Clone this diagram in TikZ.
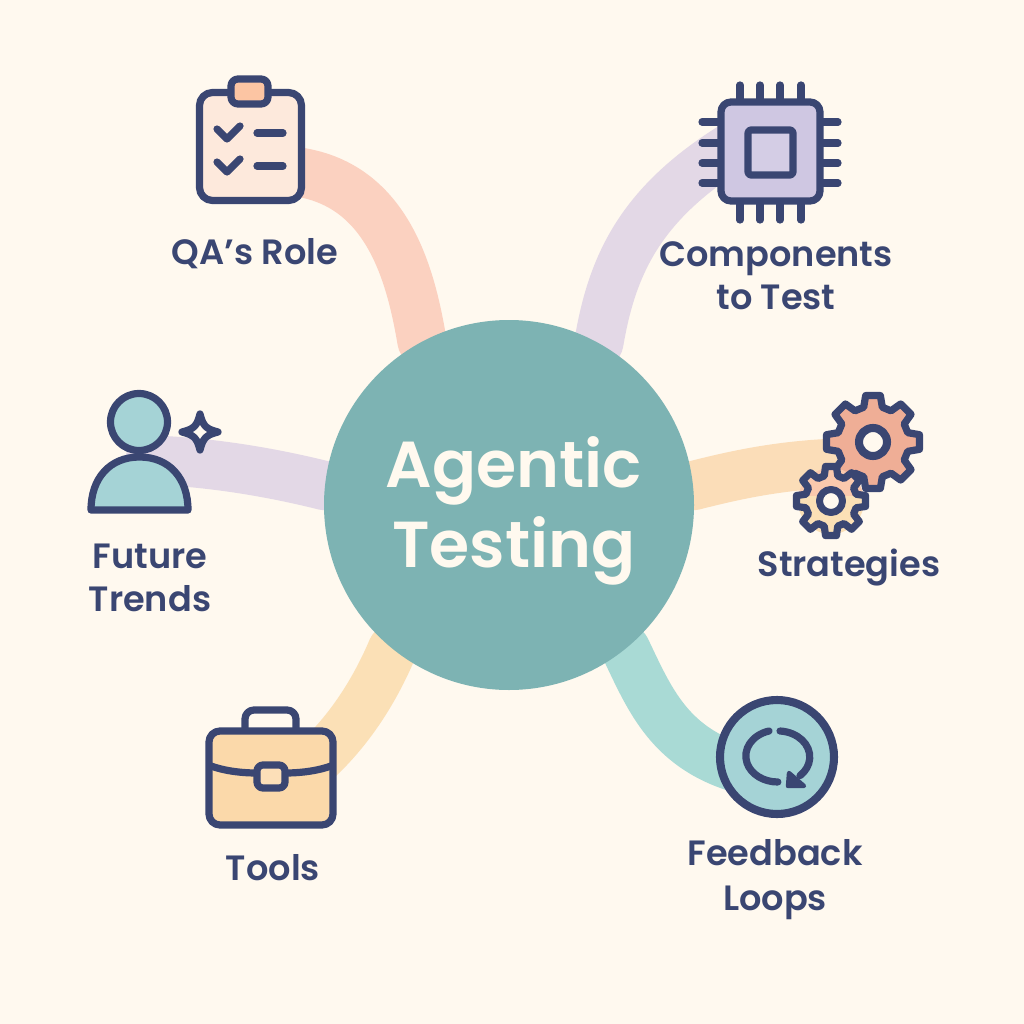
\documentclass[tikz,border=0pt]{standalone}
\usepackage{fontspec}
\setmainfont{Poppins}[UprightFont=* Medium,BoldFont=* SemiBold]
\usetikzlibrary{backgrounds}
\definecolor{paper}{HTML}{FFF9EF}
\definecolor{navy}{HTML}{3A4672}
\definecolor{hubteal}{HTML}{7DB3B3}
\definecolor{ribpeach}{HTML}{FBD1C0}
\definecolor{riblilac}{HTML}{E3D8E6}
\definecolor{riborange}{HTML}{FBDDB8}
\definecolor{ribsand}{HTML}{FBE0B6}
\definecolor{ribteal}{HTML}{A9DAD5}
\definecolor{iconaqua}{HTML}{A5D3D6}
\definecolor{iconlilac}{HTML}{CFC7E2}
\definecolor{iconsand}{HTML}{FBD9AA}
\definecolor{gearsalmon}{HTML}{EFAE96}
\tikzstyle{ribbon}=[line width=28pt,line cap=round]
\tikzstyle{icon}=[draw=navy,line width=4.1pt,line join=round]
\tikzstyle{glyph}=[draw=navy,line width=4.1pt,line cap=round,line join=round]
\tikzstyle{caption}=[text=navy,align=center,inner sep=0pt,font=\fontsize{20}{24.5}\bfseries\selectfont]
\newcommand{\drawgear}[3][]{
	\draw[icon,#1] (-15:#3) foreach \a in {0,45,...,315}{
		-- (\a-15:#3) -- (\a-9:#2) -- (\a+9:#2) -- (\a+15:#3)
	} -- cycle;
}
\begin{document}
\begin{tikzpicture}[x=0.02cm,y=-0.02cm]

\useasboundingbox (0,0) rectangle (1024,1024);

\node[circle,fill=hubteal,minimum size=370*0.02cm,inner sep=0pt] (hub) at (509,505) {};
\node[text=paper,align=center,inner sep=0pt,font=\fontsize{37}{45.5}\bfseries\selectfont]
	(hublabel) at (514,511) {Agentic\\Testing};

\coordinate (qaroot) at (290,171);
\coordinate (chiproot) at (730,148);
\coordinate (personroot) at (150,460);
\coordinate (gearroot) at (840,463);
\coordinate (caseroot) at (315,762);
\coordinate (looproot) at (745,770);

\begin{scope}[on background layer]
\fill[paper] (0,0) rectangle (1024,1024);
\draw[ribbon,ribpeach] (qaroot) .. controls (385,180) and (410,270) .. (hub.118);
\draw[ribbon,riblilac] (chiproot) .. controls (640,205) and (612,265) .. (hub.61);
\draw[ribbon,riblilac] (personroot) .. controls (210,462) and (270,472) .. (hub.174);
\draw[ribbon,riborange] (gearroot) .. controls (780,465) and (735,475) .. (hub.6);
\draw[ribbon,ribsand] (caseroot) .. controls (350,730) and (375,690) .. (hub.231);
\draw[ribbon,ribteal] (looproot) .. controls (670,750) and (650,700) .. (hub.309);
\end{scope}

% clipboard
\draw[icon,fill=ribpeach!40!paper,rounded corners=13*0.02cm] (199.5,92.5) rectangle (301.5,200.5);
\draw[icon,fill=ribpeach!85!orange,rounded corners=7*0.02cm] (231,79) rectangle (268,104);
\foreach \y in {129,162}{
	\draw[glyph] (217,\y) -- (227,\y+10) -- (240,\y-3);
	\draw[glyph] (257,\y+4) -- (283,\y+4);
}

% chip
\foreach \x in {740,760,780,801}{
	\draw[glyph] (\x,85) -- (\x,105);
	\draw[glyph] (\x,200) -- (\x,220);
}
\foreach \y in {122,143,163,183}{
	\draw[glyph] (702,\y) -- (722,\y);
	\draw[glyph] (820,\y) -- (838,\y);
}
\draw[icon,fill=iconlilac,rounded corners=10*0.02cm] (721,102) rectangle (820,201);
\draw[icon,fill=iconlilac!90!white,rounded corners=3*0.02cm] (748,130) rectangle (793,175);

% person
\draw[icon,fill=iconaqua] (139,422) circle (28.5);
\draw[icon,fill=iconaqua] (91,510) .. controls (91,478) and (110,457) .. (139.5,457)
	.. controls (169,457) and (188,478) .. (188,510) -- cycle;
\draw[icon,fill=paper] (200,414) .. controls (203,426) and (206,429) .. (218,432)
	.. controls (206,435) and (203,438) .. (200,450)
	.. controls (197,438) and (194,435) .. (182,432)
	.. controls (194,429) and (197,426) .. (200,414) -- cycle;

% gears
\begin{scope}[shift={(873,442)}]
\drawgear[fill=gearsalmon]{47}{36}
\draw[icon,fill=paper,line width=4.6pt] (0,0) circle (14);
\end{scope}
\begin{scope}[shift={(831,501)}]
\begin{scope}
\clip (-45,-45) rectangle (45,-5);
\fill[ribpeach!90!orange] (0,0) circle (33);
\end{scope}
\begin{scope}
\clip (-45,-5) rectangle (45,45);
\fill[ribsand] (0,0) circle (33);
\end{scope}
\drawgear{35}{26}
\draw[icon,fill=paper,line width=4pt] (0,0) circle (11.5);
\end{scope}

% briefcase
\draw[icon,rounded corners=9*0.02cm] (245,732) -- (245,710) -- (296,710) -- (296,732);
\draw[icon,fill=iconsand,rounded corners=11*0.02cm] (209,731) rectangle (333,825);
\draw[icon] (211,766) .. controls (222,770) and (238,773) .. (257,773);
\draw[icon] (285,773) .. controls (304,773) and (320,770) .. (331,766);
\draw[icon,fill=iconsand!80!paper,rounded corners=6*0.02cm] (257,765) rectangle (285,788);

% loop
\draw[icon,fill=iconaqua,line width=4.6pt] (777,757) circle (57);
\draw[glyph] (769,731) arc[start angle=254,end angle=90,x radius=32,y radius=26];
\draw[glyph] (780,731) arc[start angle=-86,end angle=46,x radius=32,y radius=26];
\draw[icon,fill=navy,line width=2.5pt] (789,773) -- (788,786) -- (804,786) -- cycle;

\node[caption] (qalabel) at (255,254) {QA’s Role};
\node[caption] (chiplabel) at (776,276) {Components\\to Test};
\node[caption] (personlabel) at (150,578) {Future\\Trends};
\node[caption] (gearlabel) at (849,568) {Strategies};
\node[caption] (caselabel) at (273,868) {Tools};
\node[caption,font=\fontsize{20}{25.5}\bfseries\selectfont] (looplabel) at (775,880) {Feedback\\Loops};

\end{tikzpicture}
\end{document}
